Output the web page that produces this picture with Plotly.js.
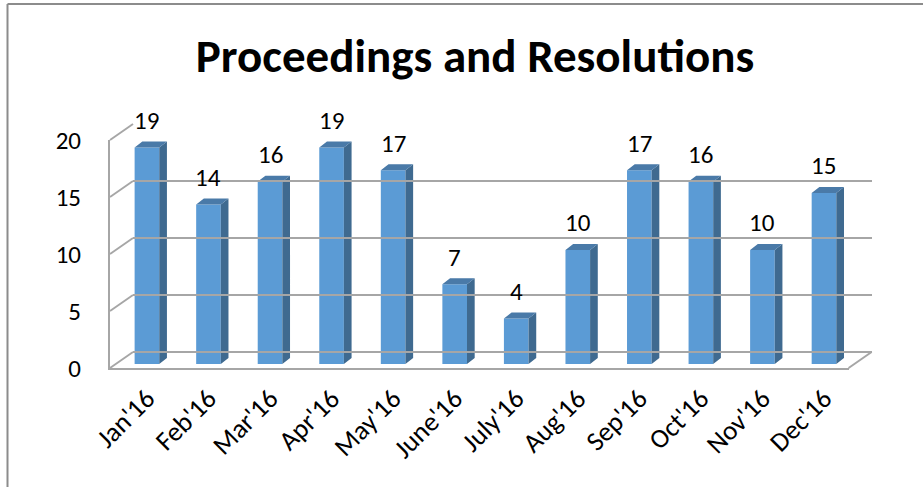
<!DOCTYPE html>
<html>
<head>
<meta charset="utf-8">
<script src="https://cdn.plot.ly/plotly-3.0.1.min.js"></script>
<style>html,body{margin:0;padding:0;background:#fff;}#chart{width:923px;height:487px;}</style>
</head>
<body>
<div id="chart"></div>
<script>
// ---- data ----
var months = ["Jan'16","Feb'16","Mar'16","Apr'16","May'16","June'16","July'16","Aug'16","Sep'16","Oct'16","Nov'16","Dec'16"];
var values = [19, 14, 16, 19, 17, 7, 4, 10, 17, 16, 10, 15];
var yTicks = [0, 5, 10, 15, 20];
var chartTitle = "Proceedings and Resolutions";

// ---- geometry (pixel layout of the pseudo-3D frame) ----
var W = 923, H = 487;
function px(x){ return x / W; }
function py(y){ return 1 - y / H; }
var xIdx = months.map(function(_, i){ return i; });
var xRange = [-0.6, 11.4];
var frontX = [px(110), px(848.6)];
var backX  = [px(133), px(871.6)];
var barY   = [py(364), py(136)];
var frontY = [py(368), py(140)];
var backY  = [py(352), py(124)];
var barW = 0.4, depthX = 0.125, depthY = 0.52;

var FONT = "Carlito, Calibri, Lato, 'Open Sans', sans-serif";

// side and top faces of each column, built from the values
var sideX = [], sideY = [], topX = [], topY = [];
values.forEach(function(v, i){
  var xl = i - barW/2, xr = i + barW/2;
  sideX.push(xr, xr + depthX, xr + depthX, xr, xr, null);
  sideY.push(0, depthY, v + depthY, v, 0, null);
  topX.push(xl, xr, xr + depthX, xl + depthX, xl, null);
  topY.push(v, v, v + depthY, v + depthY, v, null);
});

var traces = [
  {type:'scatter', x:[0], y:[0], xaxis:'x2', yaxis:'y2', mode:'markers',
   marker:{opacity:0}, hoverinfo:'skip', showlegend:false},
  {type:'scatter', x:[0], y:[0], xaxis:'x3', yaxis:'y3', mode:'markers',
   marker:{opacity:0}, hoverinfo:'skip', showlegend:false},
  {type:'bar', x:xIdx, y:values, width:barW, marker:{color:'#5B9BD5', line:{width:0}},
   hoverinfo:'y', showlegend:false},
  {type:'scatter', x:sideX, y:sideY, mode:'lines', fill:'toself', fillcolor:'#3F6A90',
   line:{width:0, color:'#3F6A90'}, hoverinfo:'skip', showlegend:false},
  {type:'scatter', x:topX, y:topY, mode:'lines', fill:'toself', fillcolor:'#4A7AA8',
   line:{width:0, color:'#4A7AA8'}, hoverinfo:'skip', showlegend:false}
];

var GRID = '#A6A6A6';
var shapes = [];
// left wall connectors
yTicks.forEach(function(t){
  var f = frontY[0] + (t/20)*(frontY[1]-frontY[0]);
  var b = backY[0] + (t/20)*(backY[1]-backY[0]);
  shapes.push({type:'line', xref:'paper', yref:'paper', x0:frontX[0], y0:f, x1:backX[0], y1:b,
    line:{color:GRID, width:2}, layer:'below'});
});
// right floor connector
shapes.push({type:'line', xref:'paper', yref:'paper', x0:frontX[1], y0:frontY[0], x1:backX[1], y1:backY[0],
  line:{color:GRID, width:2}, layer:'below'});
// outer border (top + left)
shapes.push({type:'line', xref:'paper', yref:'paper', x0:px(7.5), y0:py(4), x1:1, y1:py(4),
  line:{color:'#8C8C8C', width:2}});
shapes.push({type:'line', xref:'paper', yref:'paper', x0:px(7.5), y0:py(4), x1:px(7.5), y1:0,
  line:{color:'#8C8C8C', width:2}});

var annotations = values.map(function(v, i){
  return {x:i, y:v, xref:'x', yref:'y', text:String(v), showarrow:false,
    yanchor:'middle', yshift:27, font:{family:FONT, size:25, color:'#000'}};
});

var layout = {
  width:W, height:H,
  margin:{l:0, r:0, t:0, b:0},
  paper_bgcolor:'#fff', plot_bgcolor:'rgba(0,0,0,0)',
  title:{text:chartTitle, x:px(475), xanchor:'center', y:py(56), yanchor:'middle',
    font:{family:FONT, size:47, color:'#000', weight:'bold'}},
  xaxis:{domain:frontX, range:xRange, anchor:'y', visible:false, fixedrange:true},
  yaxis:{domain:barY, range:[0,20], anchor:'x', visible:false, fixedrange:true},
  xaxis2:{domain:backX, range:xRange, anchor:'y2', showgrid:false, zeroline:false,
    showticklabels:false, showline:false, ticks:''},
  yaxis2:{domain:backY, range:[0,20], anchor:'x2', tickvals:yTicks, showgrid:true,
    gridcolor:GRID, gridwidth:2, zeroline:true, zerolinecolor:GRID, zerolinewidth:2,
    showticklabels:false, showline:false, ticks:''},
  xaxis3:{domain:frontX, range:xRange, anchor:'y3', tickvals:xIdx, ticktext:months,
    tickangle:-45, showgrid:false, zeroline:false, showline:true, linecolor:GRID, linewidth:2,
    ticks:'', ticklabelstandoff:2, tickfont:{family:FONT, size:27, color:'#000'}},
  yaxis3:{domain:frontY, range:[0,20], anchor:'x3', tickvals:yTicks, showgrid:false,
    zeroline:false, showline:true, linecolor:GRID, linewidth:2, ticks:'',
    ticklabelstandoff:22, tickfont:{family:FONT, size:25, color:'#000'}},
  shapes:shapes,
  annotations:annotations,
  showlegend:false
};

Plotly.newPlot('chart', traces, layout, {displayModeBar:false, staticPlot:true});
</script>
</body>
</html>
